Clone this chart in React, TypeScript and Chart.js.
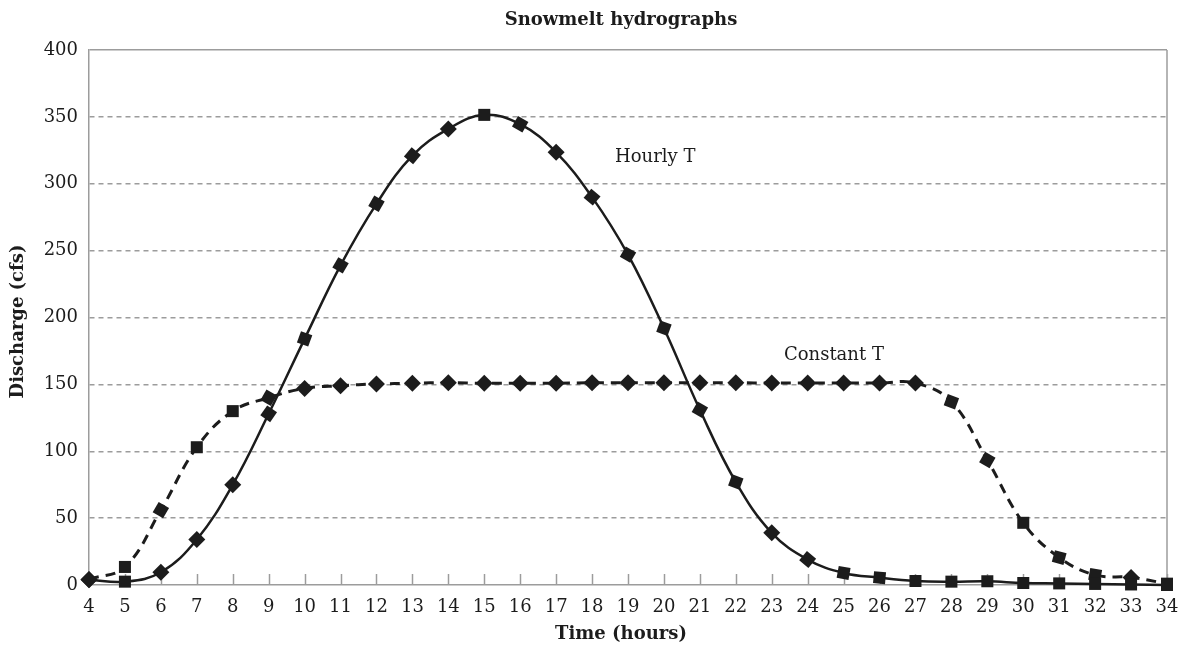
import { useEffect, useRef } from "react";
import { Chart, registerables } from "chart.js";

Chart.register(...registerables);

// ---- data ----
const hours = [4, 5, 6, 7, 8, 9, 10, 11, 12, 13, 14, 15, 16, 17, 18, 19, 20, 21, 22, 23, 24, 25, 26, 27, 28, 29, 30, 31, 32, 33, 34];
const hourlyT = [4, 2.5, 9.5, 34, 75, 128, 184, 239, 285, 321, 341, 351.5, 344.5, 323.5, 290, 247, 192, 131, 77, 39, 19, 9, 5.5, 3, 2.5, 2.8, 1.5, 1.2, 0.8, 0.4, 0];
const constantT = [4.2, 13.5, 56, 103, 130, 140, 147, 149, 150.3, 150.8, 151.3, 150.8, 150.8, 150.8, 151.2, 151.2, 151.2, 151.2, 151.2, 151, 151, 151, 151, 151, 137, 93.5, 46.5, 20.5, 7.5, 5.7, 1];
const yTickValues = [0, 50, 100, 150, 200, 250, 300, 350, 400];
const chartTitle = "Snowmelt hydrographs";
const xTitle = "Time (hours)";
const yTitle = "Discharge (cfs)";
const seriesNames = ["Hourly T", "Constant T"];
const labelAnchors = [
  { x: 18.64, y: 320 },
  { x: 23.34, y: 172 },
];

// marker rotation (style only): 45 = diamond, 0 = square
const hourlyRot = [45, 0, 45, 45, 45, 35, 20, 30, 30, 40, 45, 0, 30, 45, 40, 30, 20, 30, 20, 45, 40, 10, 5, 0, 0, 0, 0, 0, 0, 0, 0];
const constantRot = [45, 0, 30, 0, 0, 30, 45, 45, 45, 45, 45, 45, 45, 45, 45, 45, 45, 45, 45, 45, 45, 45, 45, 45, 20, 30, 0, 15, 10, 45, 0];

const SERIF = "'DejaVu Serif', 'Liberation Serif', serif";
const INK = "#1c1c1c";
const GRID = "#9c9c9c";

export default function App() {
  const ref = useRef<HTMLCanvasElement | null>(null);

  useEffect(() => {
    if (!ref.current) return;

    const decor = {
      id: "decor",
      beforeDatasetsDraw(chart: any) {
        const { ctx, chartArea } = chart;
        const xs = chart.scales.x;
        ctx.save();
        ctx.strokeStyle = GRID;
        ctx.lineWidth = 1.5;
        ctx.beginPath();
        ctx.moveTo(chartArea.right, chartArea.top);
        ctx.lineTo(chartArea.right, chartArea.bottom);
        ctx.stroke();
        hours.forEach((h) => {
          const px = Math.round(xs.getPixelForValue(h)) + 0.5;
          ctx.beginPath();
          ctx.moveTo(px, chartArea.bottom);
          ctx.lineTo(px, chartArea.bottom - 11);
          ctx.stroke();
        });
        ctx.restore();
      },
      afterDraw(chart: any) {
        const { ctx, chartArea } = chart;
        const xs = chart.scales.x;
        const ys = chart.scales.y;
        const cx = (chartArea.left + chartArea.right) / 2 - 7;
        ctx.save();
        ctx.fillStyle = INK;
        ctx.textAlign = "center";
        ctx.textBaseline = "middle";
        ctx.font = `bold 18px ${SERIF}`;
        ctx.fillText(chartTitle, cx, 20);
        ctx.font = `bold 18px ${SERIF}`;
        ctx.fillText(xTitle, cx, 634);
        ctx.save();
        ctx.translate(18, (chartArea.top + chartArea.bottom) / 2 + 4);
        ctx.rotate(-Math.PI / 2);
        ctx.fillText(yTitle, 0, 0);
        ctx.restore();
        ctx.font = `18px ${SERIF}`;
        ctx.textAlign = "left";
        seriesNames.forEach((n, i) => {
          ctx.fillText(n, xs.getPixelForValue(labelAnchors[i].x), ys.getPixelForValue(labelAnchors[i].y));
        });
        ctx.restore();
      },
    };

    const chart = new Chart(ref.current, {
      type: "line",
      data: {
        datasets: [
          {
            label: seriesNames[0],
            data: hours.map((h, i) => ({ x: h, y: hourlyT[i] })),
            borderColor: INK,
            borderWidth: 2.5,
            tension: 0.4,
            pointStyle: "rect",
            pointRotation: hourlyRot,
            pointRadius: 8.5,
            pointBackgroundColor: INK,
            pointBorderColor: INK,
            pointBorderWidth: 0,
            clip: false,
          },
          {
            label: seriesNames[1],
            data: hours.map((h, i) => ({ x: h, y: constantT[i] })),
            borderColor: INK,
            borderWidth: 3,
            borderDash: [10, 7],
            tension: 0.4,
            pointStyle: "rect",
            pointRotation: constantRot,
            pointRadius: 8.5,
            pointBackgroundColor: INK,
            pointBorderColor: INK,
            pointBorderWidth: 0,
            clip: false,
          },
        ],
      },
      options: {
        responsive: false,
        animation: false,
        devicePixelRatio: 1,
        layout: { padding: { top: 50, right: 11, left: 0, bottom: 0 } },
        plugins: { legend: { display: false }, title: { display: false }, tooltip: { enabled: false } },
        scales: {
          x: {
            type: "linear",
            min: 4,
            max: 34,
            afterFit: (s: any) => {
              s.height = 63;
              s.paddingLeft = 0;
              s.paddingRight = 0;
            },
            afterBuildTicks: (s: any) => {
              s.ticks = hours.map((v) => ({ value: v }));
            },
            grid: { display: false, drawTicks: false },
            border: { display: true, color: GRID, width: 1.5 },
            ticks: {
              autoSkip: false,
              maxRotation: 0,
              padding: 12,
              color: INK,
              font: { family: SERIF, size: 18 },
            },
          },
          y: {
            type: "linear",
            min: 0,
            max: 400,
            afterFit: (s: any) => {
              s.width = 89;
              s.paddingTop = 0;
              s.paddingBottom = 0;
            },
            afterBuildTicks: (s: any) => {
              s.ticks = yTickValues.map((v) => ({ value: v }));
            },
            grid: {
              color: (c: any) => (c.tick && c.tick.value === 0 ? "rgba(0,0,0,0)" : GRID),
              lineWidth: 1.5,
              drawTicks: false,
            },
            border: {
              display: true,
              color: GRID,
              width: 1.5,
              dash: (c: any) => (c.tick && c.tick.value === 400 ? [] : [5, 4]),
            },
            ticks: {
              padding: 11,
              color: INK,
              font: { family: SERIF, size: 18 },
            },
          },
        },
      },
      plugins: [decor],
    } as any);

    return () => chart.destroy();
  }, []);

  return (
    <div style={{ position: "fixed", left: 0, top: 0, width: 1178, height: 648, background: "#fff" }}>
      <canvas ref={ref} width={1178} height={648} style={{ display: "block" }} />
    </div>
  );
}
